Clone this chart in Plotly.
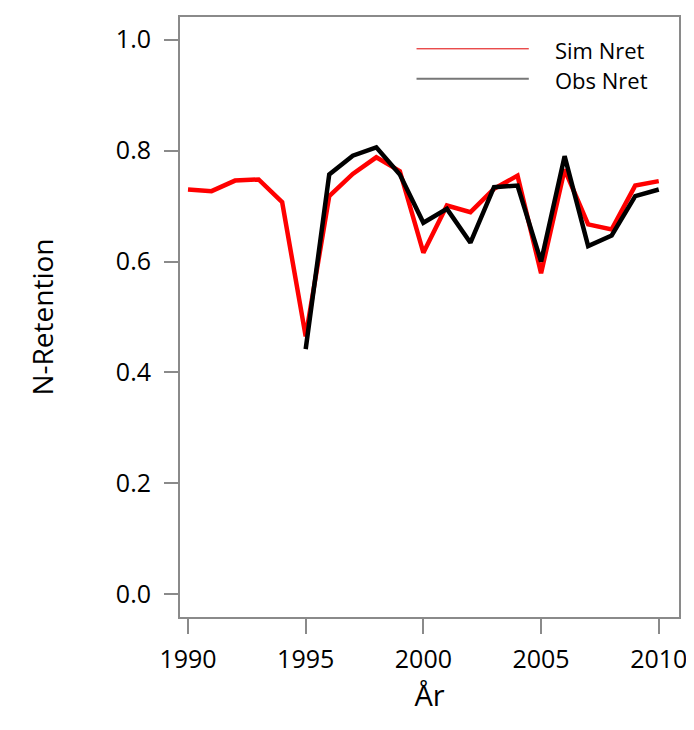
import plotly.graph_objects as go

years = list(range(1990, 2011))
sim_nret = [0.730, 0.727, 0.746, 0.748, 0.707, 0.465, 0.718, 0.758, 0.788, 0.763,
            0.616, 0.701, 0.689, 0.731, 0.755, 0.579, 0.766, 0.667, 0.658, 0.737, 0.745]
obs_years = list(range(1995, 2011))
obs_nret = [0.442, 0.757, 0.791, 0.806, 0.757, 0.670, 0.695, 0.634, 0.734, 0.737,
            0.600, 0.790, 0.628, 0.647, 0.718, 0.730]
x_ticks = [1990, 1995, 2000, 2005, 2010]
y_ticks = [0.0, 0.2, 0.4, 0.6, 0.8, 1.0]

FONT = "Open Sans"
AX = "#8a8a8a"

fig = go.Figure()
fig.add_trace(go.Scatter(x=years, y=sim_nret, mode="lines", name="Sim Nret",
                         line=dict(color="#ff0000", width=4.5), showlegend=False))
fig.add_trace(go.Scatter(x=obs_years, y=obs_nret, mode="lines", name="Obs Nret",
                         line=dict(color="#000000", width=4.5), showlegend=False))

# legend drawn manually (long legend lines like reference)
fig.add_shape(type="line", xref="paper", yref="paper", x0=0.474, x1=0.699, y0=0.947, y1=0.947,
              line=dict(color="#e00000", width=1))
fig.add_shape(type="line", xref="paper", yref="paper", x0=0.474, x1=0.699, y0=0.897, y1=0.897,
              line=dict(color="#777777", width=2))
fig.add_annotation(xref="paper", yref="paper", x=0.747, y=0.945, text="Sim Nret", showarrow=False,
                   xanchor="left", yanchor="middle", font=dict(family=FONT, size=22, color="#000"))
fig.add_annotation(xref="paper", yref="paper", x=0.747, y=0.895, text="Obs Nret", showarrow=False,
                   xanchor="left", yanchor="middle", font=dict(family=FONT, size=22, color="#000"))

fig.update_layout(
    width=686, height=722,
    margin=dict(l=172, r=12, t=7, b=113),
    plot_bgcolor="white", paper_bgcolor="white",
    font=dict(family=FONT, size=26, color="#000"),
    showlegend=False,
)
fig.update_xaxes(range=[1989.66, 2010.86], tickvals=x_ticks, ticktext=[str(v) for v in x_ticks],
                 showgrid=False, zeroline=False, showline=True, mirror=True, linecolor=AX, linewidth=2,
                 ticks="outside", ticklen=15, tickwidth=2, tickcolor=AX, ticklabelstandoff=4,
                 title=dict(text="År", font=dict(family=FONT, size=29), standoff=8),
                 tickfont=dict(family=FONT, size=25))
fig.update_yaxes(range=[-0.041, 1.041], tickvals=y_ticks, ticktext=[f"{v:.1f}" for v in y_ticks],
                 showgrid=False, zeroline=False, showline=True, mirror=True, linecolor=AX, linewidth=2,
                 ticks="outside", ticklen=14, tickwidth=2, tickcolor=AX, ticklabelstandoff=8,
                 title=dict(text="N-Retention", font=dict(family=FONT, size=28), standoff=54),
                 tickfont=dict(family=FONT, size=25))

fig.write_html("out.html")
